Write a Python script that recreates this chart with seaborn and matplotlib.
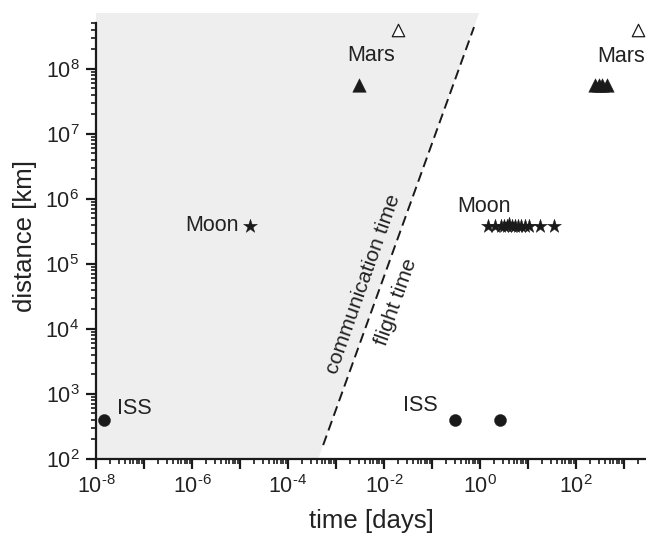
import numpy as np
import pandas as pd
import matplotlib
matplotlib.use("Agg")
import matplotlib.pyplot as plt
import seaborn as sns
from matplotlib.ticker import LogLocator, FixedFormatter, FixedLocator, NullFormatter

# ---- data ----
iss_time = [1.5e-8, 0.3, 2.6]
iss_dist = [400, 400, 400]
moon_time = [1.6e-5, 1.5, 2.1, 2.7, 3.2, 3.6, 4.1, 4.6, 5.3, 6.2, 7.2, 8.5, 10.5, 17.5, 34.0]
moon_dist = [3.84e5, 3.84e5, 3.84e5, 3.84e5, 3.84e5, 3.84e5, 4.15e5, 3.84e5, 3.84e5,
             3.84e5, 3.84e5, 3.84e5, 3.84e5, 3.84e5, 3.84e5]
mars_time = [3.0e-3, 250, 300, 350, 440]
mars_dist = [5.6e7, 5.6e7, 5.6e7, 5.6e7, 5.6e7]
mars_far_time = [0.0195, 1950]
mars_far_dist = [4.0e8, 4.0e8]
line_time = [5.4e-4, 0.75]
line_dist = [1.62e2, 4.4e8]
x_exponents = list(range(-8, 4))
y_exponents = list(range(2, 9))

xlim = (1e-8, 10 ** 3.458)
ylim = (1e2, 10 ** 8.86)

sns.set_style("ticks")
plt.rcParams['font.family'] = ['Liberation Sans', 'DejaVu Sans']
plt.rcParams['mathtext.fontset'] = 'custom'
plt.rcParams['mathtext.rm'] = 'Liberation Sans'
plt.rcParams['mathtext.it'] = 'Liberation Sans:italic'
plt.rcParams['mathtext.bf'] = 'Liberation Sans:bold'

ink = '#1a1a1a'
fig = plt.figure(figsize=(6.46, 5.36), dpi=100)
ax = fig.add_axes([96 / 646, (536 - 458.7) / 536, 1 - 96 / 646, (458.7 - 13) / 536])
ax.set_xscale('log')
ax.set_yscale('log')
ax.set_xlim(*xlim)
ax.set_ylim(*ylim)

# shaded "communication time" region, left of the line
lt = np.log10(line_time)
ld = np.log10(line_dist)
slope = (ld[1] - ld[0]) / (lt[1] - lt[0])
t_lo = 10 ** (lt[0] + (np.log10(ylim[0]) - ld[0]) / slope)
t_hi = 10 ** (lt[0] + (np.log10(ylim[1]) - ld[0]) / slope)
ax.fill([xlim[0], xlim[0], t_hi, t_lo], [ylim[0], ylim[1], ylim[1], ylim[0]],
        color='#eeeeee', lw=0, zorder=0)

sns.lineplot(x=line_time, y=line_dist, ax=ax, color=ink, lw=1.4,
             dashes=False, linestyle=(0, (5.2, 2.8)), zorder=2)

pts = pd.DataFrame({
    'time': iss_time + moon_time + mars_time,
    'dist': iss_dist + moon_dist + mars_dist,
    'obj': ['ISS'] * len(iss_time) + ['Moon'] * len(moon_time) + ['Mars'] * len(mars_time),
})
for obj, mk, s in [('ISS', 'o', 75), ('Moon', '*', 110), ('Mars', '^', 95)]:
    sub = pts[pts.obj == obj]
    sns.scatterplot(data=sub, x='time', y='dist', ax=ax, marker=mk, s=s,
                    color=ink, edgecolor=ink, linewidth=0.3, zorder=3, legend=False)
sns.scatterplot(x=mars_far_time, y=mars_far_dist, ax=ax, marker='^', s=80,
                facecolor='white', edgecolor=ink, linewidth=0.9, zorder=3, legend=False)

fs = 15.5
tc = '#222222'
ax.text(10 ** -7.56, 10 ** 2.765, 'ISS', ha='left', va='center', fontsize=fs, color=tc)
ax.text(10 ** -0.875, 10 ** 2.815, 'ISS', ha='right', va='center', fontsize=fs, color=tc)
ax.text(10 ** -5.03, 10 ** 5.585, 'Moon', ha='right', va='center', fontsize=fs, color=tc)
ax.text(10 ** -0.479, 10 ** 5.877, 'Moon', ha='left', va='center', fontsize=fs, color=tc)
ax.text(10 ** -2.26, 10 ** 8.21, 'Mars', ha='center', va='center', fontsize=fs, color=tc)
ax.text(10 ** 2.94, 10 ** 8.185, 'Mars', ha='center', va='center', fontsize=fs, color=tc)
ax.text(10 ** -2.4375, 10 ** 4.69, 'communication time', rotation=70.5,
        rotation_mode='anchor', ha='center', va='center', fontsize=15.3, color=tc)
ax.text(10 ** -1.75, 10 ** 4.41, 'flight time', rotation=70.5,
        rotation_mode='anchor', ha='center', va='center', fontsize=15.3, color=tc)

# axes styling
sns.despine(ax=ax)
for sp in ['left', 'bottom']:
    ax.spines[sp].set_linewidth(1.6)
    ax.spines[sp].set_color(ink)
ax.spines['left'].set_bounds(1e2, 5e8)

ax.xaxis.set_major_locator(FixedLocator([10.0 ** k for k in x_exponents]))
ax.xaxis.set_major_formatter(FixedFormatter(
    [r'$10^{\text{%d}}$' % k if k % 2 == 0 else '' for k in x_exponents]))
ax.xaxis.set_minor_locator(LogLocator(base=10, subs=np.arange(2, 10), numticks=100))
ax.xaxis.set_minor_formatter(NullFormatter())
ax.yaxis.set_major_locator(FixedLocator([10.0 ** k for k in y_exponents]))
ax.yaxis.set_major_formatter(FixedFormatter([r'$10^{\text{%d}}$' % k for k in y_exponents]))
ax.yaxis.set_minor_locator(FixedLocator(
    [m * 10.0 ** k for k in y_exponents for m in range(2, 10) if m * 10.0 ** k <= 5e8]))
ax.yaxis.set_minor_formatter(NullFormatter())
ax.tick_params(which='major', length=7, width=1.6, color=ink, labelsize=15.5,
               labelcolor=tc, pad=5, direction='out')
ax.tick_params(which='minor', length=3.5, width=1.2, color=ink, direction='out')

ax.set_xlabel('time [days]', fontsize=18.5, color=tc, labelpad=8)
ax.set_ylabel('distance [km]', fontsize=18.5, color=tc, labelpad=6)

fig.savefig('out.png', dpi=100)
